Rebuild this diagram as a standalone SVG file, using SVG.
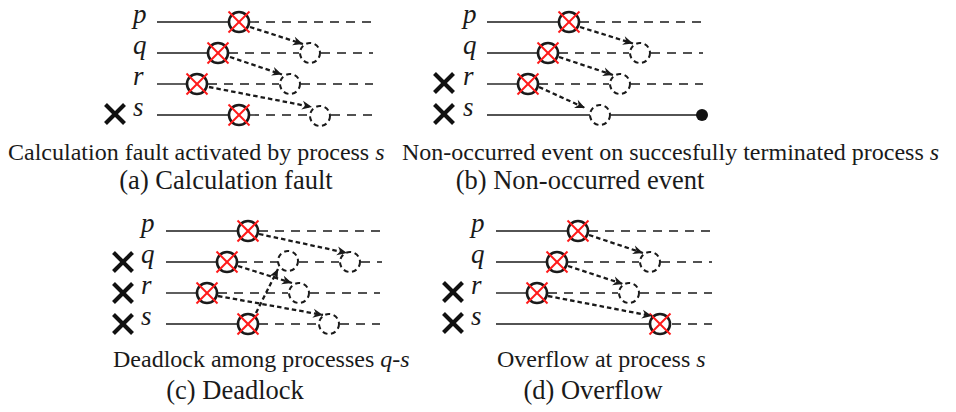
<svg xmlns="http://www.w3.org/2000/svg" xmlns:xlink="http://www.w3.org/1999/xlink" width="956" height="412" viewBox="0 0 956 412">
<style>
.bg{fill:#ffffff}
.sol{stroke:#1a1a1a;stroke-width:1.4;fill:none}
.dsh{stroke:#1a1a1a;stroke-width:1.4;stroke-dasharray:9 7;fill:none}
.evc{fill:#ffffff;stroke:#1a1a1a;stroke-width:2.6}
.evx{stroke:#ff1a1a;stroke-width:2}
.ghost{fill:#ffffff;stroke:#1a1a1a;stroke-width:2;stroke-dasharray:5 3.6}
.msg{stroke:#1a1a1a;stroke-width:2.3;stroke-dasharray:4.5 3;fill:none;marker-end:url(#ah)}
.kill{stroke:#111111;stroke-width:4;fill:none}
.lbl{font-family:'Liberation Serif','Times New Roman',serif;font-style:italic;font-size:27px;fill:#1a1a1a}
.cap1{font-family:'Liberation Serif','Times New Roman',serif;font-size:24px;fill:#1a1a1a}
.cap2{font-family:'Liberation Serif','Times New Roman',serif;font-size:26.5px;fill:#1a1a1a;text-anchor:middle}
.it{font-style:italic}
.dot{fill:#111111}
</style>
<defs>
<marker id="ah" markerUnits="userSpaceOnUse" markerWidth="14" markerHeight="12" viewBox="-11 -6 12 12" refX="0" refY="0" orient="auto">
<path d="M0,0 L-10,-4.5 L-7,0 L-10,4.5 Z" fill="#1a1a1a" stroke="none"/>
</marker>
<g id="ev"><circle class="evc" r="10"/><line class="evx" x1="-10.5" y1="-10.5" x2="10.5" y2="10.5"/><line class="evx" x1="-10.5" y1="10.5" x2="10.5" y2="-10.5"/></g>
<g id="xk"><line class="kill" x1="-9.5" y1="-9.5" x2="9.5" y2="9.5"/><line class="kill" x1="-9.5" y1="9.5" x2="9.5" y2="-9.5"/></g>
</defs>
<rect class="bg" x="0" y="0" width="956" height="412"/>

<!-- Panel (a) -->
<g id="panel-a">
<g id="a-lines">
<text class="lbl" x="133" y="23">p</text>
<text class="lbl" x="133" y="54">q</text>
<text class="lbl" x="133" y="85">r</text>
<text class="lbl" x="133" y="116">s</text>
<line class="sol" x1="157" y1="22" x2="228" y2="22"/><line class="dsh" x1="250" y1="22" x2="373" y2="22"/>
<line class="sol" x1="157" y1="53" x2="207" y2="53"/><line class="dsh" x1="229" y1="53" x2="299" y2="53"/><line class="dsh" x1="321" y1="53" x2="373" y2="53"/>
<line class="sol" x1="157" y1="84" x2="186" y2="84"/><line class="dsh" x1="208" y1="84" x2="279" y2="84"/><line class="dsh" x1="301" y1="84" x2="373" y2="84"/>
<line class="sol" x1="157" y1="115" x2="228" y2="115"/><line class="dsh" x1="250" y1="115" x2="309" y2="115"/><line class="dsh" x1="331" y1="115" x2="373" y2="115"/>
</g>
<g id="a-kill-s"><use xlink:href="#xk" x="115" y="114"/></g>
<g id="a-ev-p"><use xlink:href="#ev" x="239" y="22"/></g>
<g id="a-ev-q"><use xlink:href="#ev" x="218" y="53"/></g>
<g id="a-ev-r"><use xlink:href="#ev" x="197" y="84"/></g>
<g id="a-ev-s"><use xlink:href="#ev" x="239" y="115"/></g>
<g id="a-gh-q"><circle class="ghost" cx="310" cy="53" r="10"/></g>
<g id="a-gh-r"><circle class="ghost" cx="290" cy="84" r="10"/></g>
<g id="a-gh-s"><circle class="ghost" cx="320" cy="116" r="10"/></g>
<g id="a-connectors">
<line class="msg" x1="250" y1="27" x2="303" y2="44"/>
<line class="msg" x1="230" y1="57" x2="282" y2="74.5"/>
<line class="msg" x1="209" y1="87" x2="312" y2="107"/>
</g>
</g>

<!-- Panel (b) -->
<g id="panel-b">
<g id="b-lines">
<text class="lbl" x="463" y="23">p</text>
<text class="lbl" x="463" y="54">q</text>
<text class="lbl" x="463" y="85">r</text>
<text class="lbl" x="463" y="116">s</text>
<line class="sol" x1="487" y1="22" x2="558" y2="22"/><line class="dsh" x1="580" y1="22" x2="703" y2="22"/>
<line class="sol" x1="487" y1="53" x2="537" y2="53"/><line class="dsh" x1="559" y1="53" x2="629" y2="53"/><line class="dsh" x1="651" y1="53" x2="703" y2="53"/>
<line class="sol" x1="487" y1="84" x2="517" y2="84"/><line class="dsh" x1="539" y1="84" x2="609" y2="84"/><line class="dsh" x1="631" y1="84" x2="703" y2="84"/>
<line class="sol" x1="487" y1="115" x2="590" y2="115"/><line class="sol" x1="611" y1="115" x2="700" y2="115"/>
</g>
<g id="b-kill-r"><use xlink:href="#xk" x="444" y="83"/></g>
<g id="b-kill-s"><use xlink:href="#xk" x="444" y="114"/></g>
<g id="b-ev-p"><use xlink:href="#ev" x="569" y="22"/></g>
<g id="b-ev-q"><use xlink:href="#ev" x="548" y="53"/></g>
<g id="b-ev-r"><use xlink:href="#ev" x="528" y="84"/></g>
<g id="b-gh-q"><circle class="ghost" cx="640" cy="53" r="10"/></g>
<g id="b-gh-r"><circle class="ghost" cx="620" cy="84" r="10"/></g>
<g id="b-gh-s"><circle class="ghost" cx="600" cy="115" r="10"/></g>
<g id="b-end-s"><circle class="dot" cx="702" cy="115" r="6"/></g>
<g id="b-connectors">
<line class="msg" x1="580" y1="27" x2="633" y2="43.5"/>
<line class="msg" x1="559" y1="57" x2="613" y2="75"/>
<line class="msg" x1="539" y1="87" x2="585" y2="108"/>
</g>
</g>

<!-- Panel (c) -->
<g id="panel-c">
<g id="c-lines">
<text class="lbl" x="141" y="232">p</text>
<text class="lbl" x="141" y="263">q</text>
<text class="lbl" x="141" y="294">r</text>
<text class="lbl" x="141" y="325">s</text>
<line class="sol" x1="166" y1="231" x2="237" y2="231"/><line class="dsh" x1="259" y1="231" x2="380" y2="231"/>
<line class="sol" x1="166" y1="262" x2="216" y2="262"/><line class="dsh" x1="238" y1="262" x2="278" y2="262"/><line class="dsh" x1="299" y1="262" x2="339" y2="262"/><line class="dsh" x1="361" y1="262" x2="382" y2="262"/>
<line class="sol" x1="166" y1="293" x2="196" y2="293"/><line class="dsh" x1="218" y1="293" x2="288" y2="293"/><line class="dsh" x1="310" y1="293" x2="380" y2="293"/>
<line class="sol" x1="166" y1="324" x2="237" y2="324"/><line class="dsh" x1="259" y1="324" x2="318" y2="324"/><line class="dsh" x1="340" y1="324" x2="380" y2="324"/>
</g>
<g id="c-kill-q"><use xlink:href="#xk" x="123" y="262"/></g>
<g id="c-kill-r"><use xlink:href="#xk" x="123" y="293"/></g>
<g id="c-kill-s"><use xlink:href="#xk" x="123" y="324"/></g>
<g id="c-ev-p"><use xlink:href="#ev" x="248" y="231"/></g>
<g id="c-ev-q"><use xlink:href="#ev" x="227" y="262"/></g>
<g id="c-ev-r"><use xlink:href="#ev" x="207" y="293"/></g>
<g id="c-ev-s"><use xlink:href="#ev" x="248" y="324"/></g>
<g id="c-gh-q1"><circle class="ghost" cx="288" cy="261" r="10"/></g>
<g id="c-gh-q2"><circle class="ghost" cx="350" cy="262" r="10"/></g>
<g id="c-gh-r"><circle class="ghost" cx="299" cy="293" r="10"/></g>
<g id="c-gh-s"><circle class="ghost" cx="329" cy="324" r="10"/></g>
<g id="c-connectors">
<line class="msg" x1="259" y1="234" x2="347" y2="253"/>
<line class="msg" x1="238" y1="266" x2="292" y2="283"/>
<line class="msg" x1="218" y1="296" x2="323" y2="315"/>
<line class="msg" x1="256" y1="313" x2="278" y2="269"/>
</g>
</g>

<!-- Panel (d) -->
<g id="panel-d">
<g id="d-lines">
<text class="lbl" x="471" y="232">p</text>
<text class="lbl" x="471" y="263">q</text>
<text class="lbl" x="471" y="294">r</text>
<text class="lbl" x="471" y="325">s</text>
<line class="sol" x1="496" y1="231" x2="567" y2="231"/><line class="dsh" x1="589" y1="231" x2="712" y2="231"/>
<line class="sol" x1="496" y1="262" x2="546" y2="262"/><line class="dsh" x1="568" y1="262" x2="639" y2="262"/><line class="dsh" x1="661" y1="262" x2="712" y2="262"/>
<line class="sol" x1="496" y1="293" x2="526" y2="293"/><line class="dsh" x1="548" y1="293" x2="618" y2="293"/><line class="dsh" x1="640" y1="293" x2="712" y2="293"/>
<line class="sol" x1="496" y1="324" x2="649" y2="324"/><line class="dsh" x1="672" y1="324" x2="712" y2="324"/>
</g>
<g id="d-kill-r"><use xlink:href="#xk" x="453" y="292"/></g>
<g id="d-kill-s"><use xlink:href="#xk" x="453" y="323"/></g>
<g id="d-ev-p"><use xlink:href="#ev" x="578" y="231"/></g>
<g id="d-ev-q"><use xlink:href="#ev" x="557" y="262"/></g>
<g id="d-ev-r"><use xlink:href="#ev" x="537" y="293"/></g>
<g id="d-ev-s"><use xlink:href="#ev" x="660" y="324"/></g>
<g id="d-gh-q"><circle class="ghost" cx="650" cy="262" r="10"/></g>
<g id="d-gh-r"><circle class="ghost" cx="629" cy="293" r="10"/></g>
<g id="d-connectors">
<line class="msg" x1="589" y1="235" x2="643" y2="253"/>
<line class="msg" x1="568" y1="266" x2="623" y2="284"/>
<line class="msg" x1="548" y1="296" x2="652" y2="316"/>
</g>
</g>

<!-- Captions -->
<g id="captions">
<text class="cap1" x="8" y="160">Calculation fault activated by process <tspan class="it">s</tspan></text>
<text class="cap1" x="402" y="160">Non-occurred event on succesfully terminated process <tspan class="it">s</tspan></text>
<text class="cap2" x="226" y="189">(a) Calculation fault</text>
<text class="cap2" x="580" y="189">(b) Non-occurred event</text>
<text class="cap1" x="113" y="367">Deadlock among processes <tspan class="it">q-s</tspan></text>
<text class="cap1" x="497" y="367">Overflow at process <tspan class="it">s</tspan></text>
<text class="cap2" x="235" y="399">(c) Deadlock</text>
<text class="cap2" x="593" y="399">(d) Overflow</text>
</g>
</svg>
